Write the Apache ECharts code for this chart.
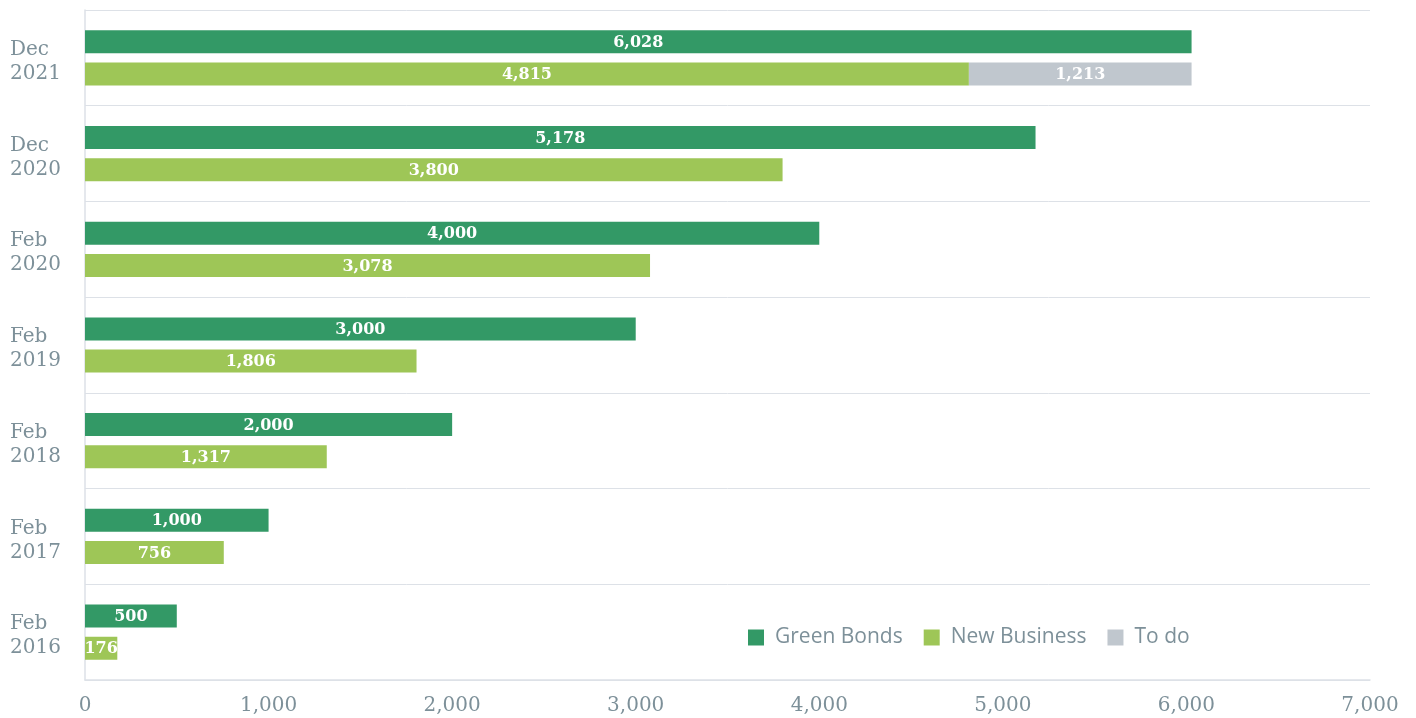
<!DOCTYPE html>
<html>
<head>
<meta charset="utf-8">
<script src="https://cdn.jsdelivr.net/npm/echarts@6/dist/echarts.min.js"></script>
<style>
  html, body { margin: 0; padding: 0; background: #ffffff; }
  #chart { width: 1416px; height: 718px; }
</style>
</head>
<body>
<div id="chart"></div>
<script>
// Periods, listed bottom to top
const periods = ['Feb\n2016', 'Feb\n2017', 'Feb\n2018', 'Feb\n2019', 'Feb\n2020', 'Dec\n2020', 'Dec\n2021'];
const greenBonds = [500, 1000, 2000, 3000, 4000, 5178, 6028];
const newBusiness = [176, 756, 1317, 1806, 3078, 3800, 4815];
const toDo = [null, null, null, null, null, null, 1213];
const xTicks = [0, 1000, 2000, 3000, 4000, 5000, 6000, 7000];

const COLORS = { green: '#339966', light: '#9ec657', gray: '#c0c7ce', text: '#7d9099', line: '#dde1e7' };
const SERIF = '"DejaVu Serif", serif';
const fmt = v => Number(v).toLocaleString('en-US');

const barLabel = {
  show: true,
  position: 'inside',
  color: '#ffffff',
  fontFamily: SERIF,
  fontWeight: 'bold',
  fontSize: 16,
  offset: [0, 1],
  formatter: p => fmt(p.value)
};

const chart = echarts.init(document.getElementById('chart'), null, { renderer: 'canvas' });
chart.setOption({
  animation: false,
  grid: { left: 85, right: 46, top: 10, bottom: 38, containLabel: false },
  legend: {
    data: ['Green Bonds', 'New Business', 'To do'],
    left: 748,
    top: 627,
    padding: 0,
    icon: 'rect',
    itemWidth: 16,
    itemHeight: 16,
    itemGap: 21,
    textStyle: { color: COLORS.text, fontFamily: '"Open Sans", sans-serif', fontSize: 21, padding: [0, 0, 0, 6] }
  },
  xAxis: {
    type: 'value',
    min: xTicks[0],
    max: xTicks[xTicks.length - 1],
    interval: 1000,
    axisLine: { show: true, lineStyle: { color: COLORS.line, width: 1.5 } },
    axisTick: { show: false },
    splitLine: { show: false },
    axisLabel: { color: COLORS.text, fontFamily: SERIF, fontSize: 20, margin: 16, formatter: v => fmt(v) }
  },
  yAxis: {
    type: 'category',
    data: periods,
    axisLine: { show: true, lineStyle: { color: COLORS.line, width: 1.5 } },
    axisTick: { show: false },
    splitLine: { show: true, lineStyle: { color: COLORS.line, width: 1 } },
    axisLabel: {
      color: COLORS.text, align: 'left', margin: 75,
      formatter: v => v.split('\n').map(s => '{t|' + s + '}').join('\n'),
      rich: { t: { fontFamily: SERIF, fontSize: 20, lineHeight: 24, color: COLORS.text, padding: [8, 0, 0, 0] } }
    }
  },
  series: [
    { name: 'Green Bonds', type: 'bar', data: greenBonds, barWidth: 23, barGap: '40%',
      itemStyle: { color: COLORS.green }, label: barLabel },
    { name: 'New Business', type: 'bar', stack: 'nb', data: newBusiness, barWidth: 23, barGap: '40%',
      itemStyle: { color: COLORS.light }, label: barLabel },
    { name: 'To do', type: 'bar', stack: 'nb', data: toDo, barWidth: 23, barGap: '40%',
      itemStyle: { color: COLORS.gray }, label: barLabel }
  ]
});
</script>
</body>
</html>
